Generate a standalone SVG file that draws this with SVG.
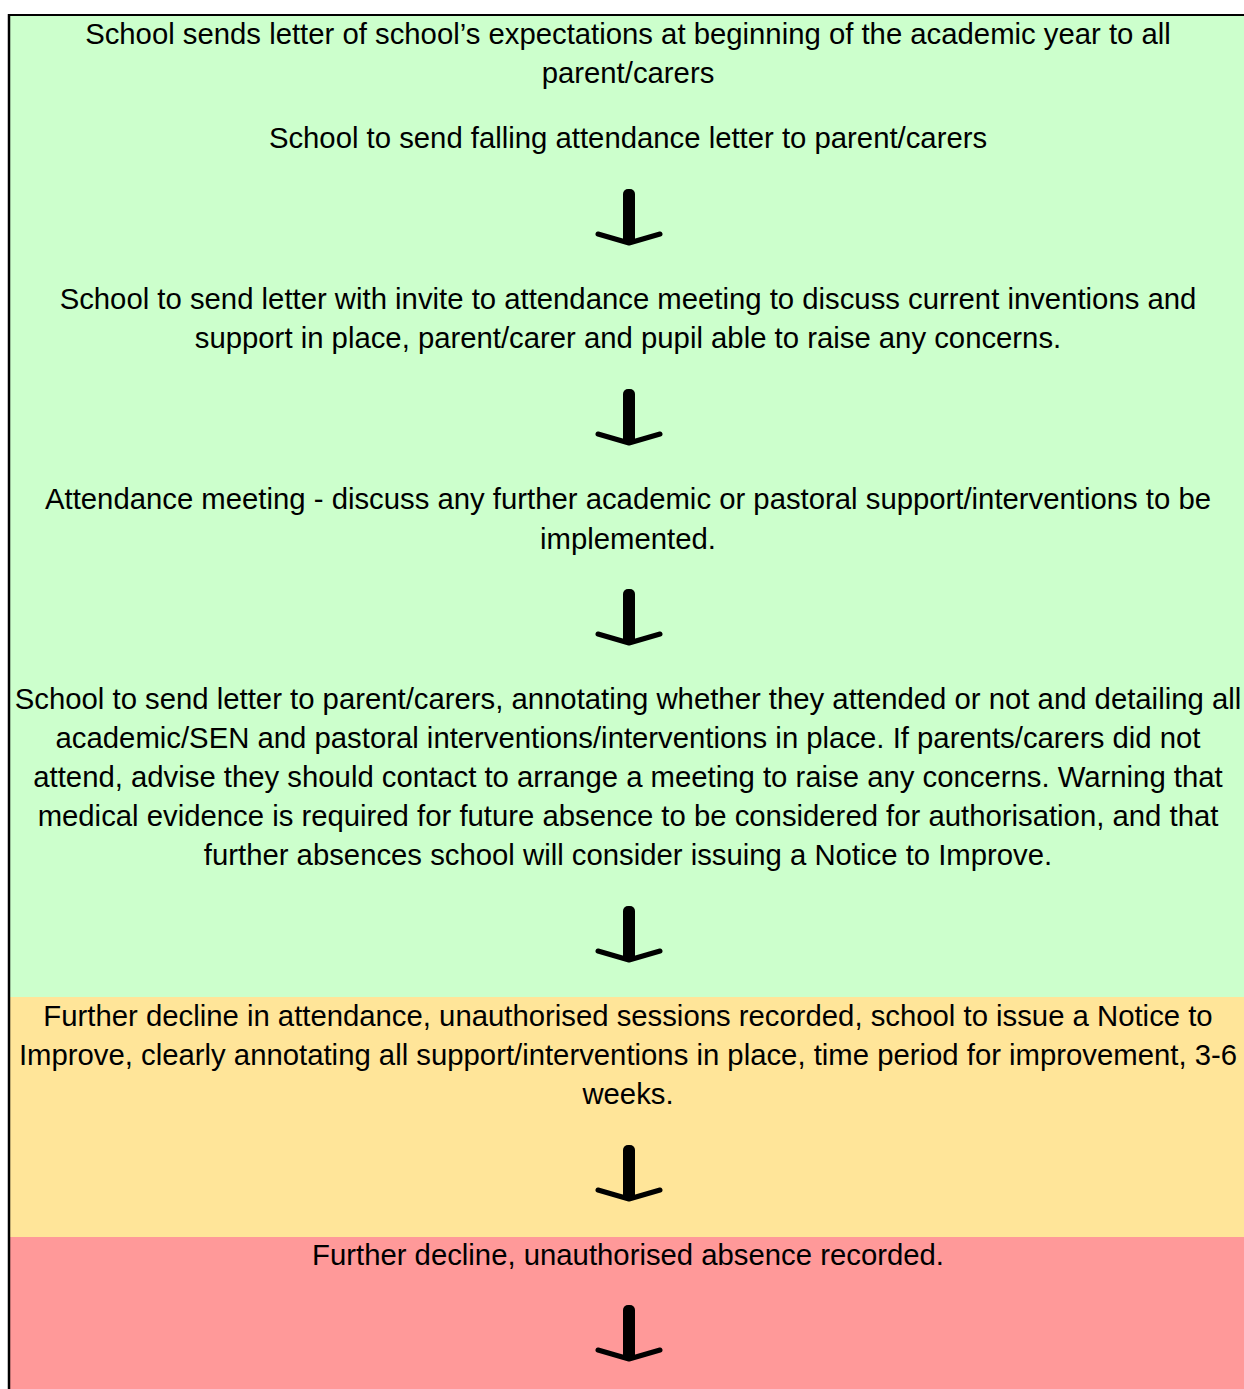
<svg xmlns="http://www.w3.org/2000/svg" width="1244" height="1389" viewBox="0 0 1244 1389">
<style>
.t{font-family:"Liberation Sans",Arial,sans-serif;font-size:29.3px;fill:#000;text-anchor:middle}
.stem{fill:#000}
.head{fill:none;stroke:#000;stroke-width:5;stroke-linecap:round;stroke-linejoin:round}
</style>
<defs>
<g id="arr">
<rect class="stem" x="-6" y="0" width="12" height="55" rx="5"/>
<path class="head" d="M-31 45 L0 54 L31 45"/>
</g>
</defs>
<rect x="0" y="0" width="1244" height="1389" fill="#fff"/>
<g id="green">
<rect x="9" y="15" width="1235" height="982" fill="#CCFFCC"/>
</g>
<g id="amber">
<rect x="9" y="997" width="1235" height="240" fill="#FFE599"/>
</g>
<g id="red">
<rect x="9" y="1237" width="1235" height="152" fill="#FF9999"/>
</g>
<g id="border">
<line x1="8" y1="15" x2="1244" y2="15" stroke="#000" stroke-width="2"/>
<line x1="9" y1="14" x2="9" y2="1389" stroke="#000" stroke-width="2.5"/>
</g>
<g id="n1">
<text class="t" x="628" y="44">School sends letter of school’s expectations at beginning of the academic year to all</text>
<text class="t" x="628" y="83">parent/carers</text>
<text class="t" x="628" y="148">School to send falling attendance letter to parent/carers</text>
</g>
<g id="n2">
<text class="t" x="628" y="309">School to send letter with invite to attendance meeting to discuss current inventions and</text>
<text class="t" x="628" y="348">support in place, parent/carer and pupil able to raise any concerns.</text>
</g>
<g id="n3">
<text class="t" x="628" y="509">Attendance meeting - discuss any further academic or pastoral support/interventions to be</text>
<text class="t" x="628" y="549">implemented.</text>
</g>
<g id="n4">
<text class="t" x="628" y="709">School to send letter to parent/carers, annotating whether they attended or not and detailing all</text>
<text class="t" x="628" y="748">academic/SEN and pastoral interventions/interventions in place. If parents/carers did not</text>
<text class="t" x="628" y="787">attend, advise they should contact to arrange a meeting to raise any concerns. Warning that</text>
<text class="t" x="628" y="826">medical evidence is required for future absence to be considered for authorisation, and that</text>
<text class="t" x="628" y="865">further absences school will consider issuing a Notice to Improve.</text>
</g>
<g id="n5">
<text class="t" x="628" y="1026">Further decline in attendance, unauthorised sessions recorded, school to issue a Notice to</text>
<text class="t" x="628" y="1065">Improve, clearly annotating all support/interventions in place, time period for improvement, 3-6</text>
<text class="t" x="628" y="1104">weeks.</text>
</g>
<g id="n6">
<text class="t" x="628" y="1265">Further decline, unauthorised absence recorded.</text>
</g>
<g id="connectors">
<use href="#arr" x="629" y="189"/>
<use href="#arr" x="629" y="389"/>
<use href="#arr" x="629" y="589"/>
<use href="#arr" x="629" y="906"/>
<use href="#arr" x="629" y="1145"/>
<use href="#arr" x="629" y="1305"/>
</g>
</svg>
